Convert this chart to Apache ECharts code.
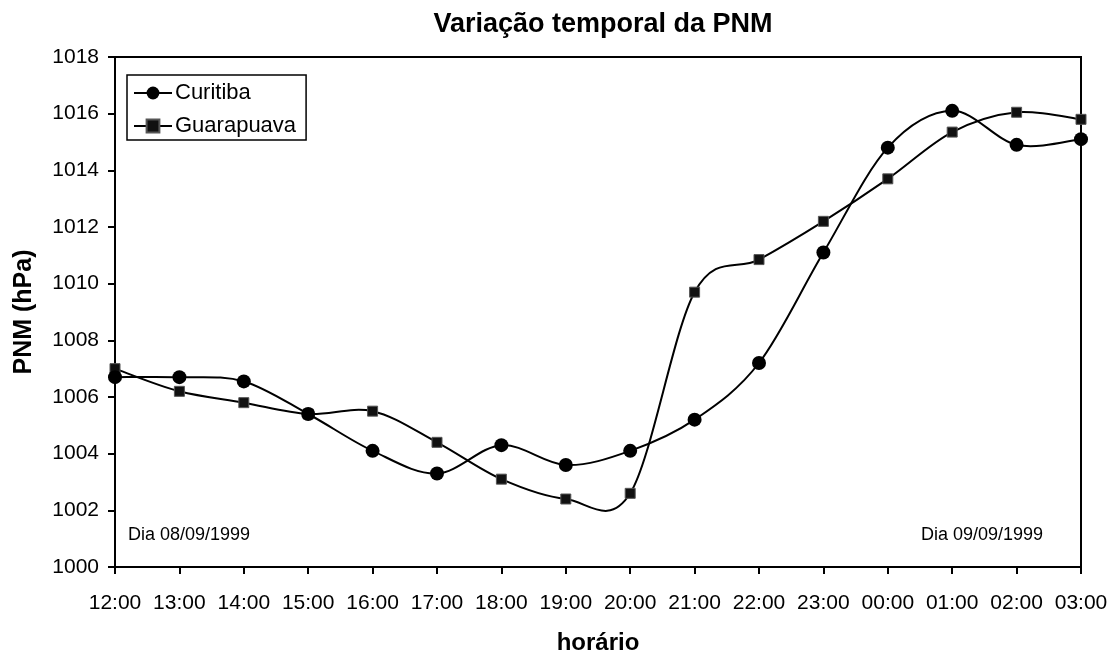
<!DOCTYPE html>
<html>
<head>
<meta charset="utf-8">
<script src="https://cdn.jsdelivr.net/npm/echarts@6/dist/echarts.min.js"></script>
<style>
  html, body { margin: 0; padding: 0; background: #fff; }
  #chart { width: 1115px; height: 660px; }
</style>
</head>
<body>
<div id="chart"></div>
<script>
// Hourly sea-level pressure (PNM, hPa), 08/09/1999 12:00 to 09/09/1999 03:00
const hours = ['12:00', '13:00', '14:00', '15:00', '16:00', '17:00', '18:00', '19:00',
               '20:00', '21:00', '22:00', '23:00', '00:00', '01:00', '02:00', '03:00'];
const curitiba = [1006.7, 1006.7, 1006.55, 1005.4, 1004.1, 1003.3, 1004.3, 1003.6,
                  1004.1, 1005.2, 1007.2, 1011.1, 1014.8, 1016.1, 1014.9, 1015.1];
const guarapuava = [1007.0, 1006.2, 1005.8, 1005.4, 1005.5, 1004.4, 1003.1, 1002.4,
                    1002.6, 1009.7, 1010.85, 1012.2, 1013.7, 1015.35, 1016.05, 1015.8];
const pressureTicks = { min: 1000, max: 1018, step: 2 };

const FONT = 'Liberation Sans, Arial, sans-serif';
const chart = echarts.init(document.getElementById('chart'), null, { renderer: 'canvas' });

// Smoothed curve through the points: one cubic Bezier per hour interval,
// Catmull-Rom tangents computed in pixel space from the axis coordinates.
function smoothCurve(values) {
  const last = values.length - 1;
  return function (params, api) {
    const i = params.dataIndex;
    if (i >= last) return null;
    const pt = k => {
      const kk = Math.max(0, Math.min(last, k));
      return api.coord([kk, values[kk]]);
    };
    const p0 = pt(i - 1), p1 = pt(i), p2 = pt(i + 1), p3 = pt(i + 2);
    return {
      type: 'bezierCurve',
      shape: {
        x1: p1[0], y1: p1[1],
        cpx1: p1[0] + (p2[0] - p0[0]) / 6, cpy1: p1[1] + (p2[1] - p0[1]) / 6,
        cpx2: p2[0] - (p3[0] - p1[0]) / 6, cpy2: p2[1] - (p3[1] - p1[1]) / 6,
        x2: p2[0], y2: p2[1]
      },
      style: { stroke: '#000', lineWidth: 2, fill: null }
    };
  };
}

function curveSeries(values) {
  return {
    type: 'custom',
    data: values.map((v, i) => [i, v]),
    encode: { x: 0, y: 1 },
    renderItem: smoothCurve(values),
    clip: false,
    silent: true,
    z: 2
  };
}

function markerSeries(name, values, symbol, size, itemStyle, z) {
  return {
    name: name,
    type: 'line',
    data: values,
    clip: false,
    z: z,
    symbol: symbol,
    symbolSize: size,
    showAllSymbol: true,
    lineStyle: { width: 0, opacity: 0 },
    itemStyle: itemStyle
  };
}

chart.setOption({
  animation: false,
  backgroundColor: '#fff',
  textStyle: { fontFamily: FONT, color: '#000' },
  title: {
    text: 'Variação temporal da PNM',
    left: 598,
    top: 6,
    textAlign: 'center',
    textStyle: { fontFamily: FONT, fontSize: 27, fontWeight: 'bold', color: '#000' }
  },
  legend: {
    orient: 'vertical',
    left: 127,
    top: 75,
    data: ['Curitiba', 'Guarapuava'],
    itemWidth: 38,
    itemHeight: 16,
    itemGap: 11,
    padding: [7, 10, 3, 6],
    borderColor: '#000',
    borderWidth: 1.5,
    backgroundColor: '#fff',
    lineStyle: { color: '#000', width: 2, opacity: 1 },
    textStyle: { fontFamily: FONT, fontSize: 22, color: '#000', padding: [0, 0, 0, -2] }
  },
  grid: {
    left: 115,
    right: 34,
    top: 57,
    bottom: 90,
    show: true,
    borderColor: '#000',
    borderWidth: 2,
    backgroundColor: '#fff'
  },
  xAxis: {
    type: 'category',
    data: hours,
    boundaryGap: false,
    name: 'horário',
    nameLocation: 'middle',
    nameGap: 64,
    nameTextStyle: { fontFamily: FONT, fontSize: 24, fontWeight: 'bold', color: '#000' },
    axisLine: { lineStyle: { color: '#000', width: 2 } },
    axisTick: { show: true, length: 7, interval: 0, lineStyle: { color: '#000', width: 2 } },
    axisLabel: { interval: 0, margin: 26, fontFamily: FONT, fontSize: 21, color: '#000' },
    splitLine: { show: false }
  },
  yAxis: {
    type: 'value',
    min: pressureTicks.min,
    max: pressureTicks.max,
    interval: pressureTicks.step,
    name: 'PNM (hPa)',
    nameLocation: 'middle',
    nameGap: 78,
    nameRotate: 90,
    nameTextStyle: { fontFamily: FONT, fontSize: 25, fontWeight: 'bold', color: '#000' },
    axisLine: { show: true, lineStyle: { color: '#000', width: 2 } },
    axisTick: { show: true, length: 7, lineStyle: { color: '#000', width: 2 } },
    axisLabel: {
      margin: 16, fontFamily: FONT, fontSize: 21, color: '#000',
      formatter: v => String(v)
    },
    splitLine: { show: false }
  },
  graphic: [
    {
      type: 'text', left: 128, top: 526, z: 10,
      style: { text: 'Dia 08/09/1999', fontFamily: FONT, fontSize: 18, fill: '#000' }
    },
    {
      type: 'text', right: 72, top: 526, z: 10,
      style: { text: 'Dia 09/09/1999', fontFamily: FONT, fontSize: 18, fill: '#000' }
    }
  ],
  series: [
    curveSeries(guarapuava),
    curveSeries(curitiba),
    markerSeries('Curitiba', curitiba, 'circle', 14,
      { color: '#000', borderColor: '#000', borderWidth: 0 }, 6),
    markerSeries('Guarapuava', guarapuava, 'rect', 10,
      { color: '#111', borderColor: '#555', borderWidth: 1 }, 5)
  ]
});
</script>
</body>
</html>
